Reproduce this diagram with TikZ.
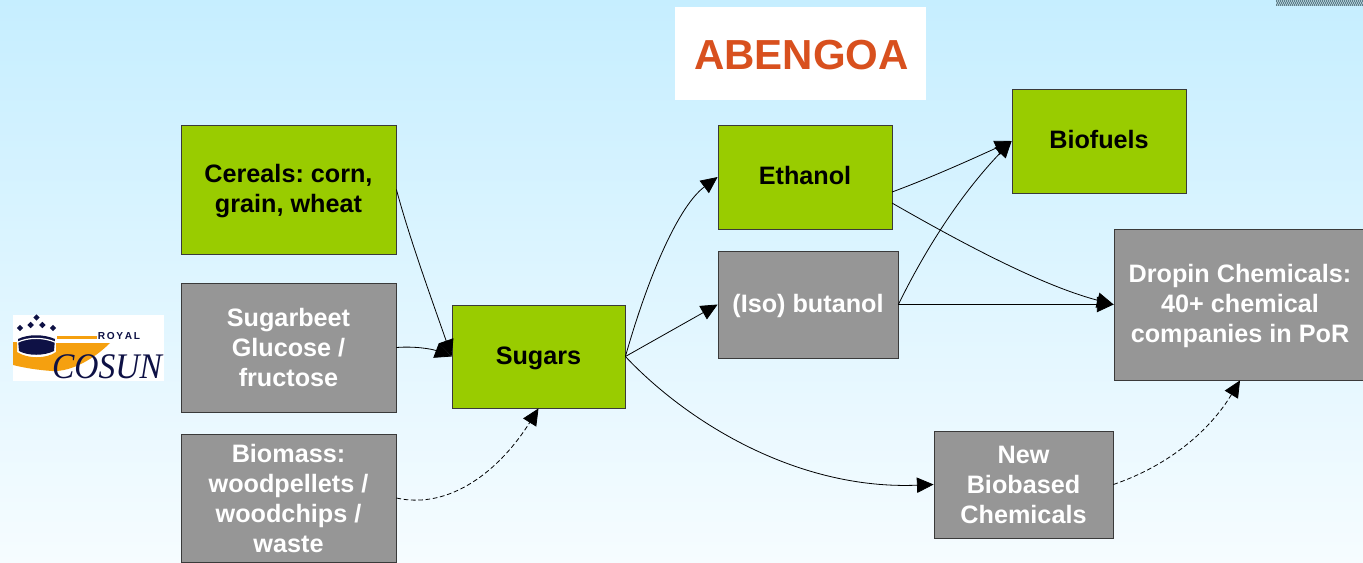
\documentclass[tikz,border=0pt]{standalone}
\usepackage{fontspec}
\setmainfont{Liberation Sans}
\newfontfamily\logoserif{Liberation Serif}
\usetikzlibrary{arrows.meta,shapes.geometric}
\frenchspacing
\definecolor{bgtop}{HTML}{C6EEFF}
\definecolor{bgbot}{HTML}{F6FCFF}
\definecolor{leaf}{HTML}{99CC00}
\definecolor{slate}{HTML}{969696}
\definecolor{edgeline}{HTML}{3A3A3A}
\definecolor{navy}{HTML}{0E1145}
\definecolor{amber}{HTML}{F5A00F}
\definecolor{redorange}{HTML}{D8501E}
\definecolor{stripa}{HTML}{5E7F8C}
\definecolor{stripb}{HTML}{A9C6D0}
\newcommand\shiftlabel[2]{\raisebox{#1}[\height][\depth]{\begin{tabular}{@{}c@{}}#2\end{tabular}}}
\tikzset{
  x=0.75pt,y=-0.75pt,
  basebox/.style={draw=edgeline,line width=0.6pt,inner sep=0pt,align=center,
    font=\fontsize{18.9}{22.5}\selectfont\bfseries},
  greenbox/.style={basebox,fill=leaf,text=black},
  greybox/.style={basebox,fill=slate,text=white},
  link/.style={draw=black,line width=0.6pt,-{Triangle[length=12.5pt,width=11.5pt]}},
  dashlink/.style={link,dash pattern=on 3.5pt off 2pt},
  jewel/.style={diamond,fill=navy,inner sep=0pt,minimum size=5pt},
  logobg/.style={fill=white,draw=none,inner sep=0pt}
}
\begin{document}
\begin{tikzpicture}
\useasboundingbox (0,0) rectangle (1363,562);
\clip (0,0) rectangle (1363,562);
\shade[top color=bgtop,bottom color=bgbot] (0,0) rectangle (1363,562);
% noisy strip, top right
\fill[stripb] (1276,0) rectangle (1363,6);
\foreach \i in {0,...,43}{
  \fill[stripa] (1276+2*\i,0) rectangle +(1,2);
  \fill[stripa] (1277+2*\i,2) rectangle +(1,2);
  \fill[stripa] (1276+2*\i,4) rectangle +(1,2);
}
% Abengoa logo
\node[logobg,minimum width=251*0.75pt,minimum height=93*0.75pt] (abengoabg) at (800.5,53.5) {};
\node[inner sep=0pt,text=redorange,font=\fontsize{31.5}{31.5}\selectfont\bfseries] (abengoa) at (801.5,55) {ABENGOA};
% Cosun logo
\node[logobg,minimum width=151*0.75pt,minimum height=66*0.75pt] (cosunbg) at (88.5,348) {};
\fill[amber] (13,342) -- (17,342) -- (17,352) .. controls (28,359) and (46,359) .. (56,352) -- (56,343) -- (110,343) .. controls (95,358) and (72,372) .. (52,371) .. controls (38,370) and (25,368) .. (13,365) -- cycle;
\fill[amber] (57,336) rectangle (97,339);
\fill[navy] (18,339) .. controls (28,334) and (44,334) .. (55,339) -- (54,351) .. controls (44,356) and (28,356) .. (19,351) -- cycle;
\draw[white,line width=0.9pt] (17,342.5) .. controls (28,337) and (44,337) .. (56,342.5);
\node[jewel] (j1) at (36.5,317.5) {};
\node[jewel] (j2) at (20,328) {};
\node[jewel] (j3) at (30.7,325) {};
\node[jewel] (j4) at (42.3,325) {};
\node[jewel] (j5) at (53,328) {};
\node[inner sep=0pt,text=navy,font=\fontsize{7.6}{8}\selectfont\bfseries] (royal) at (119,336) {R\,O\,Y\,A\,L};
\node[inner sep=0pt,text=navy,font=\fontsize{27}{27}\logoserif\itshape,xscale=0.93] (cosun) at (107,367) {COSUN};
% boxes
\node[greenbox,minimum width=215*0.75pt,minimum height=129*0.75pt] (cereals) at (288.5,189.5) {\shiftlabel{-1.5pt}{Cereals: corn,\\grain, wheat}};
\node[greybox,minimum width=215*0.75pt,minimum height=129*0.75pt] (sugarbeet) at (288.5,347.5) {Sugarbeet\\Glucose /\\fructose};
\node[greybox,minimum width=215*0.75pt,minimum height=128*0.75pt] (biomass) at (288.5,498) {Biomass:\\woodpellets /\\woodchips /\\waste};
\node[greenbox,minimum width=173*0.75pt,minimum height=103*0.75pt] (sugars) at (538.5,356.5) {\shiftlabel{-1.5pt}{Sugars}};
\node[greenbox,minimum width=174*0.75pt,minimum height=104*0.75pt] (ethanol) at (805,177) {\shiftlabel{-0.75pt}{Ethanol}};
\node[greybox,minimum width=180*0.75pt,minimum height=107*0.75pt] (butanol) at (808,304.5) {\shiftlabel{-1.5pt}{(Iso) butanol}};
\node[greenbox,minimum width=174*0.75pt,minimum height=104*0.75pt] (biofuels) at (1099,141) {\shiftlabel{-0.75pt}{Biofuels}};
\node[greybox,minimum width=252*0.75pt,minimum height=151*0.75pt] (dropin) at (1240,304.5) {\shiftlabel{-1.5pt}{Dropin Chemicals:\\40+ chemical\\companies in PoR}};
\node[greybox,minimum width=179*0.75pt,minimum height=107*0.75pt] (newchem) at (1023.5,484.5) {New\\Biobased\\Chemicals};
% connectors
\coordinate (ethanolupper) at (892,192);
\coordinate (ethanollower) at (892,203);
\draw[link] (cereals.east) .. controls (410,240) and (432,300) .. (sugars.west);
\draw[link] (sugarbeet.east) .. controls (415,346) and (432,349) .. (sugars.west);
\draw[dashlink] (biomass.east) .. controls (450,510) and (500,470) .. (sugars.south);
\draw[link] (sugars.east) .. controls (650,270) and (680,205) .. (ethanol.west);
\draw[link] (sugars.east) -- (butanol.west);
\draw[link] (sugars.east) .. controls (690,425) and (800,490) .. (newchem.west);
\draw[link] (ethanolupper) .. controls (930,178) and (970,160) .. (biofuels.west);
\draw[link] (ethanollower) .. controls (960,242) and (1040,285) .. (dropin.west);
\draw[link] (butanol.east) .. controls (925,250) and (960,195) .. (biofuels.west);
\draw[link] (butanol.east) -- (dropin.west);
\draw[dashlink] (newchem.east) .. controls (1170,465) and (1210,430) .. (dropin.south);
\end{tikzpicture}
\end{document}
